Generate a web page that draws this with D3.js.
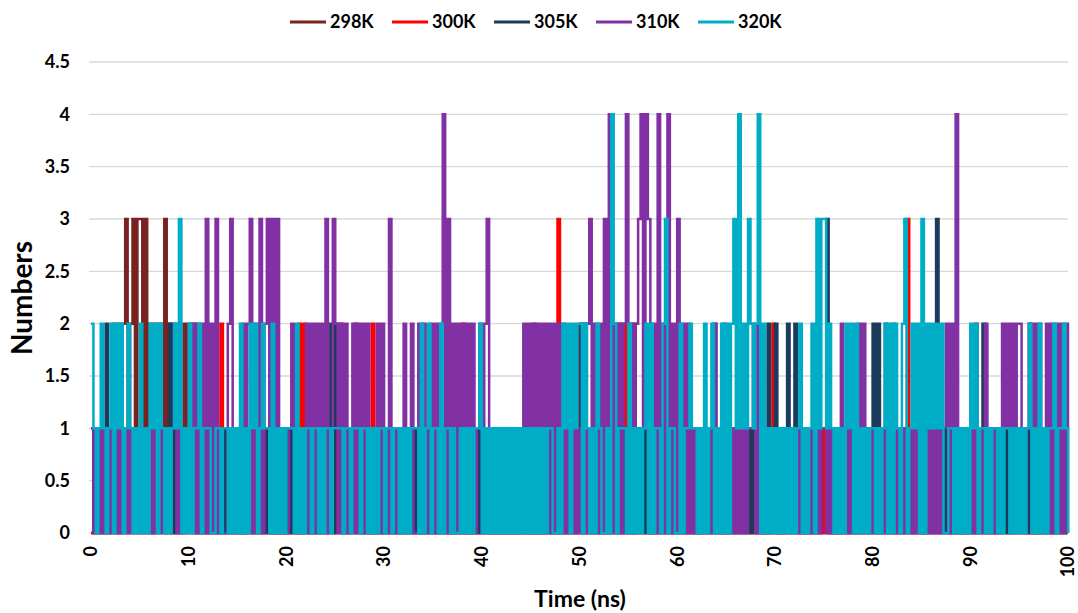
<!DOCTYPE html>
<html>
<head>
<meta charset="utf-8">
<script src="https://cdn.jsdelivr.net/npm/d3@7"></script>
<style>
  body { margin: 0; background: #fff; }
  svg text { font-family: Lato, 'Open Sans', sans-serif; font-weight: bold; fill: #000; }
</style>
</head>
<body>
<div id="chart"></div>
<script>
const seriesNames = ['298K', '300K', '305K', '310K', '320K']
const seriesColors = ['#7a2121', '#ff0000', '#1c3a5c', '#8131a3', '#00adc6']
const timeStep = 0.25 // ns between samples
const xTicks = [0, 10, 20, 30, 40, 50, 60, 70, 80, 90, 100]
const yTicks = [0, 0.5, 1, 1.5, 2, 2.5, 3, 3.5, 4, 4.5]

// sample values, 10 samples (2.5 ns) per chunk, last chunk = value at 100 ns
const v298 = ['0101010101', '0202312313', '3131202121', '3020101021', '2120101010',
  '0101010101', '0101010101', '0101010101', '0101010101', '0101010101',
  '0101010101', '0101010101', '0101010101', '0101010101', '0101010101',
  '0101010101', '0101010101', '0101010101', '0101010101', '0101010101',
  '0101010101', '0101010101', '0101010101', '0101010101', '0101010101',
  '0101010101', '0101010101', '0101010101', '0101010101', '0101010101',
  '0101010101', '0101010101', '0101010101', '0101010101', '0101010101',
  '0101010101', '0101010101', '0101010101', '0101010101', '0101010101', '0']
const v300 = ['0101010101', '0101010101', '0101010101', '0101010101', '0101010101',
  '0102010101', '0101010101', '0101010101', '0101020201', '0101010101',
  '0120101010', '0101020101', '0101010101', '0101010101', '0101010101',
  '0120101010', '0101010101', '0101010101', '0201010101', '0301010101',
  '0101010101', '0101202020', '2020101010', '1010101010', '1010101010',
  '1010101010', '1010101010', '1010101012', '0101010101', '0101010101',
  '0101010101', '0101010101', '0101010101', '0101301010', '1010101010',
  '1010101010', '1020101010', '1010101010', '1010201010', '1010101010', '0']
const v305 = ['1010102012', '0101010101', '0101010101', '0120101010', '0101010101',
  '0101010101', '0101010101', '0101010101', '0101010101', '0101010120',
  '2101010120', '0101010101', '0101010101', '0101010101', '0101010101',
  '0101010101', '0101010101', '0101010101', '0101010101', '0101010101',
  '2020101010', '1010101010', '1010101010', '1010101010', '1010101010',
  '0101020101', '0101010101', '0101010201', '2010120120', '0101010101',
  '1301010101', '0101010101', '2020120101', '0101010101', '0101013010',
  '1010101010', '1010120101', '0101010101', '0101010101', '0101010101', '1']
const v310 = ['1010101010', '0101010101', '0101010101', '0101202010', '1202020302',
  '0301002301', '1020230203', '0230303010', '0121010120', '2020203013',
  '2020201202', '0202010202', '0030010120', '1200202012', '0202403020',
  '2020202012', '0230101010', '1010101202', '0202020202', '0202010101',
  '0202302020', '3040202024', '0202341430', '2040204020', '3020201010',
  '1010120102', '0101010101', '1202010101', '0101010101', '0101010101',
  '1010100201', '0101202101', '0101010120', '1010101010', '0101010101',
  '2020410101', '0101012010', '1012120212', '2101202020', '1202020202', '1']
const v320 = ['2101210120', '2120121010', '2010212021', '0101213010', '2011201110',
  '0110110101', '0201021201', '2110201010', '1110201011', '0110101101',
  '1110110111', '0110101011', '0110110101', '0111020120', '1102011010',
  '0101010112', '0101010101', '0101010101', '0101010110', '0102120212',
  '2021010210', '0104201110', '2010101202', '0110230110', '0201121101',
  '0201201020', '2023141213', '2124020101', '0101010101', '2010120313',
  '3121010102', '1202010101', '1010120202', '1023012120', '3021212120',
  '0110101010', '2120110101', '1010110101', '0101201020', '1011201121', '0']

const seriesValues = [v298, v300, v305, v310, v320].map(chunks => chunks.join('').split('').map(Number))

const width = 1078
const height = 613

const svg = d3.select('#chart').append('svg')
  .attr('width', width)
  .attr('height', height)

const x = d3.scaleLinear().domain([0, 100]).range([91, 1068])
const y = d3.scaleLinear().domain([0, 4.5]).range([533, 62])

// grid
svg.append('g').selectAll('line').data(yTicks).enter()
  .append('line')
  .attr('x1', 89)
  .attr('x2', 1068)
  .attr('y1', d => y(d))
  .attr('y2', d => y(d))
  .style('stroke', '#d9d9d9')
  .style('stroke-width', 1.3)

// y tick labels
svg.append('g').selectAll('text').data(yTicks).enter()
  .append('text')
  .attr('x', 70)
  .attr('y', d => y(d))
  .attr('dy', '0.35em')
  .attr('text-anchor', 'end')
  .style('font-size', '18px')
  .text(d => d)

// x tick labels (rotated)
svg.append('g').selectAll('text').data(xTicks).enter()
  .append('text')
  .attr('transform', d => `translate(${x(d)},546) rotate(-90)`)
  .attr('dy', '0.35em')
  .attr('text-anchor', 'end')
  .style('font-size', '18px')
  .text(d => d)

// series, drawn as steps so dense 0/1 switching fills solid like the source
const line = d3.line()
  .curve(d3.curveStepAfter)
  .x((d, i) => x(i * timeStep))
  .y(d => y(d))

svg.append('g').selectAll('path').data(seriesValues).enter()
  .append('path')
  .attr('d', d => line(d))
  .style('fill', 'none')
  .style('stroke', (d, i) => seriesColors[i])
  .style('stroke-width', 2.5)

// axis titles
svg.append('text')
  .attr('x', 580)
  .attr('y', 607)
  .attr('text-anchor', 'middle')
  .style('font-size', '23px')
  .text('Time (ns)')

svg.append('text')
  .attr('transform', 'translate(32,298) rotate(-90)')
  .attr('text-anchor', 'middle')
  .style('font-size', '28px')
  .text('Numbers')

// legend
const legendG = svg.append('g').selectAll('g').data(seriesNames).enter()
  .append('g')
  .attr('transform', (d, i) => `translate(${290 + i * 102},22)`)

legendG.append('line')
  .attr('x1', 0)
  .attr('x2', 36)
  .style('stroke', (d, i) => seriesColors[i])
  .style('stroke-width', 3)

legendG.append('text')
  .attr('x', 40)
  .attr('dy', '0.35em')
  .style('font-size', '18px')
  .text(d => d)
</script>
</body>
</html>
